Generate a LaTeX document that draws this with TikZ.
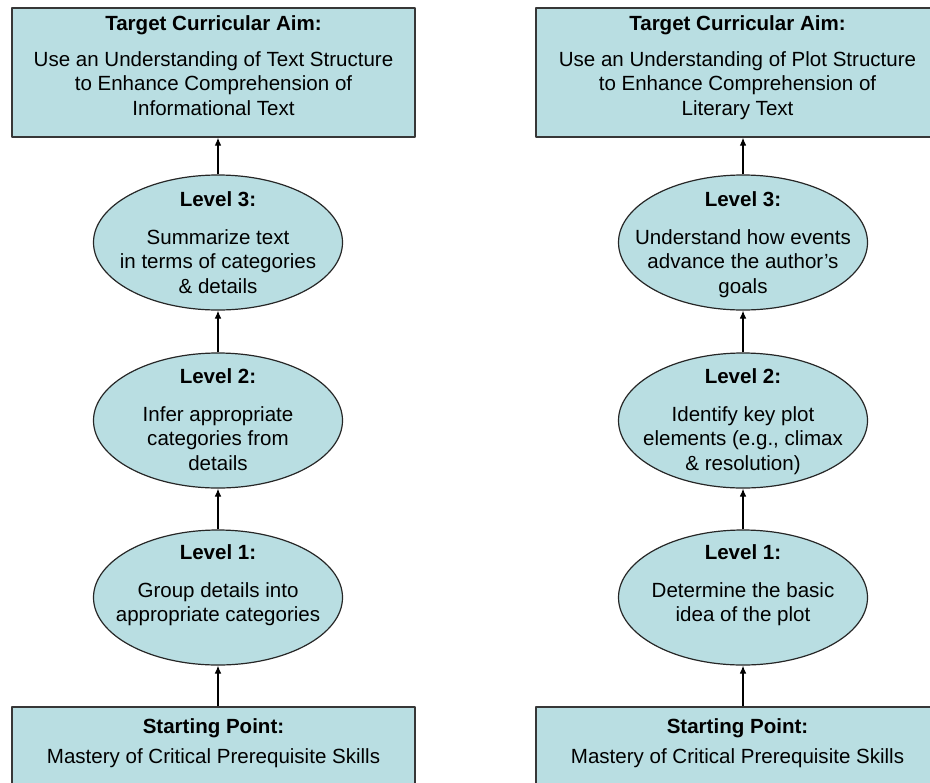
\documentclass[tikz,border=0pt]{standalone}
\usepackage{fontspec}
\setmainfont{Liberation Sans}
\usetikzlibrary{shapes.geometric,arrows.meta}
\definecolor{aimfill}{RGB}{185,222,226}
\definecolor{aimline}{RGB}{55,55,55}
\tikzset{
	aimbox/.style={draw=aimline, fill=aimfill, line width=1pt, minimum width=302.25pt, minimum height=96.75pt, inner sep=0pt},
	lvl/.style={ellipse, draw=black!85, fill=aimfill, line width=.9pt, minimum width=186.75pt, minimum height=101.25pt, inner sep=0pt},
	txt/.style={align=center, inner sep=0pt, anchor=north, font=\fontsize{15.4}{18.5}\selectfont},
}
\begin{document}
\begin{tikzpicture}[x=.75pt, y=-.75pt, >={Latex[length=6pt,width=5pt]}, line join=round]
	\useasboundingbox (0,0) rectangle (930,782);
	\clip (0,0) rectangle (930,782);
	% informational text
	\node[aimbox] (aimA) at (213.5,72.5) {};
	\node[lvl] (l3A) at (218,242.5) {};
	\node[lvl] (l2A) at (218,420.5) {};
	\node[lvl] (l1A) at (218,597.5) {};
	\node[aimbox] (startA) at (213.5,771.5) {};
	\node[txt] (aimAt) at (213.5,15) {\textbf{Target Curricular Aim:}\\[8.4pt]Use an Understanding of Text Structure\\to Enhance Comprehension of\\Informational Text};
	\node[txt] (l3At) at (218,191) {\textbf{Level 3:}\\[9.9pt]Summarize text\\in terms of categories\\\& details};
	\node[txt] (l2At) at (218,368) {\textbf{Level 2:}\\[9.9pt]Infer appropriate\\categories from\\details};
	\node[txt] (l1At) at (218,544) {\textbf{Level 1:}\\[9.9pt]Group details into\\appropriate categories};
	\node[txt] (startAt) at (213.5,718) {\textbf{Starting Point:}\\[4.6pt]Mastery of Critical Prerequisite Skills};
	% literary text
	\node[aimbox] (aimB) at (737.5,72.5) {};
	\node[lvl] (l3B) at (743,242.5) {};
	\node[lvl] (l2B) at (743,420.5) {};
	\node[lvl] (l1B) at (743,597.5) {};
	\node[aimbox] (startB) at (737.5,771.5) {};
	\node[txt] (aimBt) at (737.5,15) {\textbf{Target Curricular Aim:}\\[8.4pt]Use an Understanding of Plot Structure\\to Enhance Comprehension of\\Literary Text};
	\node[txt] (l3Bt) at (743,191) {\textbf{Level 3:}\\[9.9pt]Understand how events\\advance the author's\\goals};
	\node[txt] (l2Bt) at (743,368) {\textbf{Level 2:}\\[9.9pt]Identify key plot\\elements (e.g., climax\\\& resolution)};
	\node[txt] (l1Bt) at (743,544) {\textbf{Level 1:}\\[9.9pt]Determine the basic\\idea of the plot};
	\node[txt] (startBt) at (737.5,718) {\textbf{Starting Point:}\\[4.6pt]Mastery of Critical Prerequisite Skills};
	% arrows
	\foreach \c in {A,B}{
		\draw[->, line width=.9pt] (l1\c.south |- start\c.north) -- (l1\c.south);
		\draw[->, line width=.9pt] (l1\c.north) -- (l2\c.south);
		\draw[->, line width=.9pt] (l2\c.north) -- (l3\c.south);
		\draw[->, line width=.9pt] (l3\c.north) -- (l3\c.north |- aim\c.south);
	}
\end{tikzpicture}
\end{document}
